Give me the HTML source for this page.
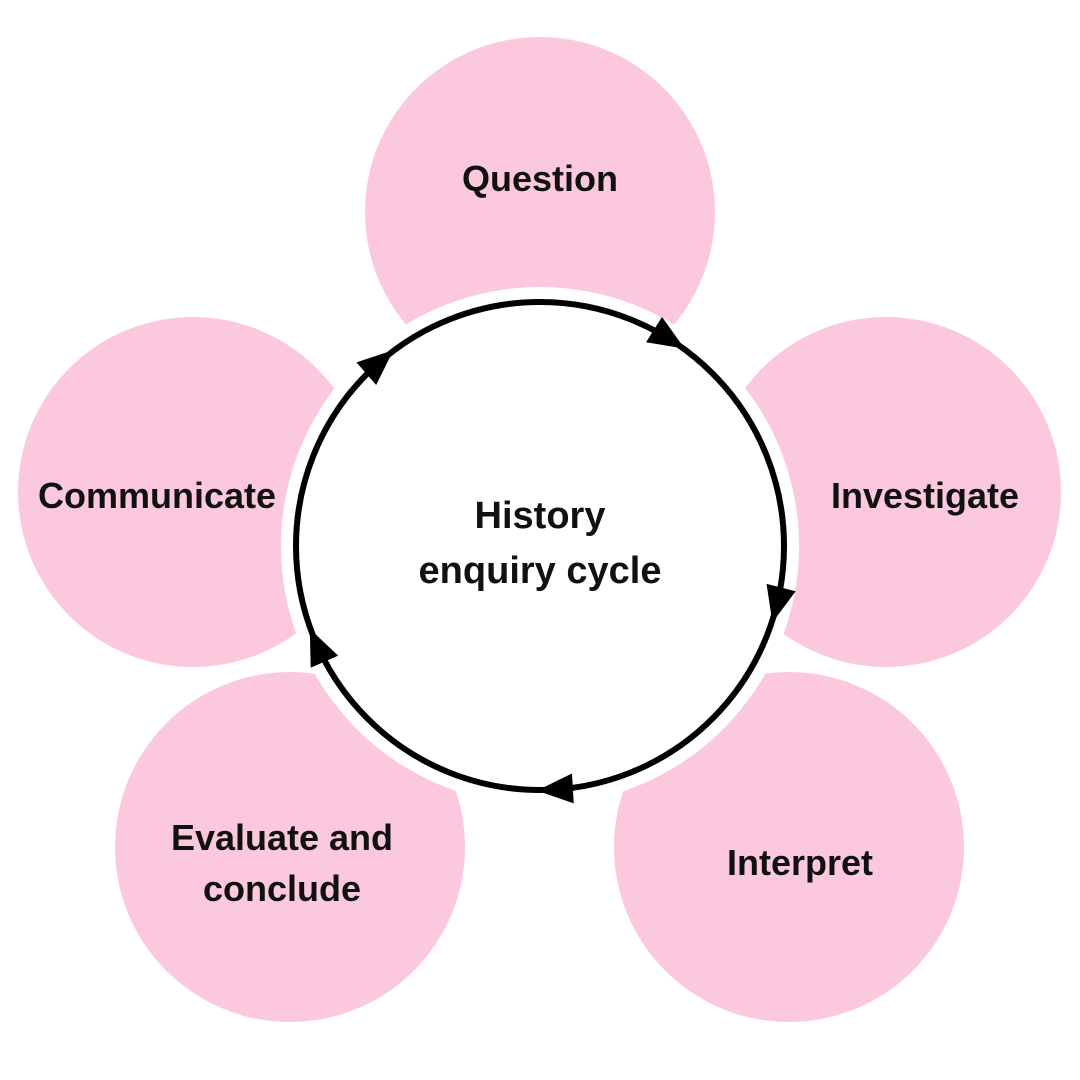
<!DOCTYPE html>
<html><head><meta charset="utf-8"><style>
html,body{margin:0;padding:0;background:#fff;}
svg{display:block}
text{font-family:"Liberation Sans",sans-serif;font-weight:bold;fill:#111;}
</style></head><body>
<svg width="1080" height="1080" viewBox="0 0 1080 1080" xmlns="http://www.w3.org/2000/svg">
<rect width="1080" height="1080" fill="#fff"/>
<g fill="#fcc8dd">
<circle cx="540" cy="212" r="175"/>
<circle cx="886" cy="492" r="175"/>
<circle cx="193" cy="492" r="175"/>
<circle cx="290" cy="847" r="175"/>
<circle cx="789" cy="847" r="175"/>
</g>
<circle cx="540" cy="546" r="259" fill="#fff"/>
<circle cx="540" cy="546" r="244" fill="none" stroke="#000" stroke-width="6"/>
<g fill="#000">
<g transform="translate(540,546) rotate(-58) translate(244,0) rotate(90)"><polygon points="18,0 -18,-15 -18,15"/></g>
<g transform="translate(540,546) rotate(14) translate(244,0) rotate(90)"><polygon points="18,0 -18,-15 -18,15"/></g>
<g transform="translate(540,546) rotate(86.5) translate(244,0) rotate(90)"><polygon points="18,0 -18,-15 -18,15"/></g>
<g transform="translate(540,546) rotate(156) translate(244,0) rotate(90)"><polygon points="18,0 -18,-15 -18,15"/></g>
<g transform="translate(540,546) rotate(-131) translate(244,0) rotate(90)"><polygon points="18,0 -18,-15 -18,15"/></g>
</g>
<g font-size="36" text-anchor="middle">
<text x="540" y="191">Question</text>
<text x="925" y="508">Investigate</text>
<text x="157" y="508">Communicate</text>
<text x="282" y="850">Evaluate and</text>
<text x="282" y="901">conclude</text>
<text x="800" y="875">Interpret</text>
<text x="540" y="528" font-size="38">History</text>
<text x="540" y="583" font-size="38">enquiry cycle</text>
</g>
</svg>
</body></html>
